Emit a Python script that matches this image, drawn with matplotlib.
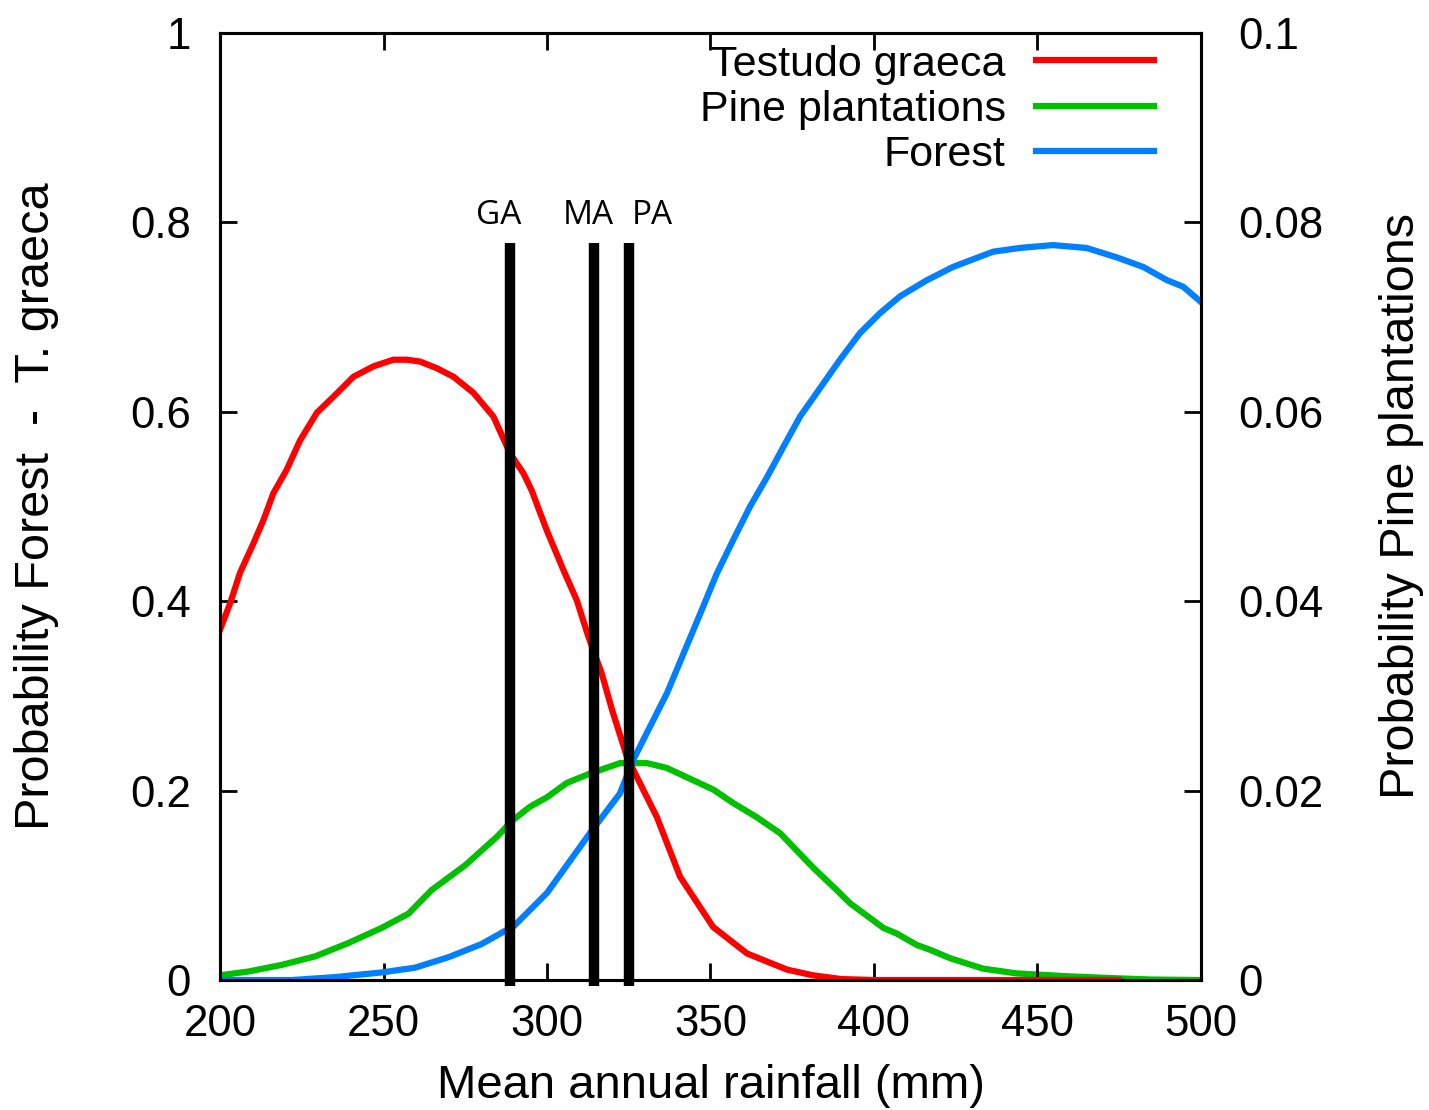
import matplotlib
matplotlib.use("Agg")
import matplotlib.pyplot as plt

plt.rcParams['font.family'] = ['Liberation Sans', 'DejaVu Sans']

# Testudo graeca (left axis)
red_x = [200, 203.1, 206.1, 210.2, 213.3, 216.3, 220.4, 224.5, 229.6, 234.7, 240.8, 246.9,
         253, 257.1, 261.2, 266.3, 271.4, 277.5, 283.6, 288.7, 292.8, 295.3, 299.9, 305,
         309.1, 312.6, 316.7, 320, 324.5, 333.6, 340.7, 350.8, 361.2, 373.4, 381.3, 390,
         400, 420, 450, 475]
red_y = [0.37, 0.398, 0.43, 0.461, 0.486, 0.514, 0.539, 0.570, 0.599, 0.616, 0.637, 0.648,
         0.655, 0.655, 0.653, 0.646, 0.637, 0.620, 0.595, 0.556, 0.535, 0.517, 0.475, 0.433,
         0.401, 0.363, 0.324, 0.284, 0.235, 0.172, 0.109, 0.056, 0.028, 0.011, 0.005, 0.001,
         0.0, 0.0, 0.0, 0.0]

# Pine plantations (right axis)
green_x = [200, 208.7, 218.9, 229.1, 239.2, 249.4, 257.6, 264.7, 274.9, 284.6, 289.6, 294.8,
           300, 306, 313.1, 322.3, 330.6, 336.6, 342.8, 350.9, 356.9, 364.1, 371.3, 376.3,
           381.3, 388.6, 392.7, 402.9, 407, 413.1, 417.1, 423.3, 433.4, 443.6, 458.9, 474.2,
           485, 500]
green_y = [0.0005, 0.0009, 0.0016, 0.0025, 0.0039, 0.0055, 0.0070, 0.0095, 0.0121, 0.0151,
           0.0169, 0.0183, 0.0193, 0.0208, 0.0218, 0.0229, 0.0229, 0.0224, 0.0214, 0.0201,
           0.0187, 0.0172, 0.0155, 0.0137, 0.0119, 0.0095, 0.0081, 0.0055, 0.0049, 0.0037,
           0.0032, 0.0023, 0.0012, 0.0007, 0.0004, 0.00018, 0.00005, 0.0]

# Forest (left axis)
blue_x = [200, 222, 235, 249.4, 259.6, 269.8, 280, 287.2, 289.6, 300, 313.1, 322.3, 326.3,
          336.7, 347, 351.9, 357, 362.1, 367.3, 372.3, 377.4, 382.5, 389.6, 395.7, 401.8,
          408, 416.2, 424.2, 436.4, 444.6, 454.7, 465, 474.3, 482.3, 489.6, 494.6, 500]
blue_y = [0.0, 0.0, 0.003, 0.008, 0.013, 0.024, 0.038, 0.052, 0.056, 0.092, 0.155, 0.197,
          0.232, 0.303, 0.388, 0.429, 0.465, 0.50, 0.531, 0.563, 0.595, 0.620, 0.655, 0.683,
          0.704, 0.722, 0.739, 0.753, 0.769, 0.773, 0.776, 0.773, 0.763, 0.753, 0.739,
          0.732, 0.716]

# Site markers
site_names = ["GA", "MA", "PA"]
site_x = [288.7, 314.4, 325.1]
site_label_x = [285.3, 312.5, 332.1]

fig = plt.figure(figsize=(14.29, 11.10), dpi=100)
ax = fig.add_axes([0.154, 0.1171, 0.6864, 0.8532])
ax2 = ax.twinx()
ax.set_zorder(ax2.get_zorder() + 1)
ax.patch.set_visible(False)

lw = 4.5
l1, = ax.plot(red_x, red_y, color='#ff0000', lw=lw, label='Testudo graeca')
l2, = ax2.plot(green_x, green_y, color='#00c000', lw=lw, label='Pine plantations')
l3, = ax.plot(blue_x, blue_y, color='#0080ff', lw=lw, label='Forest')

for name, xv, lx in zip(site_names, site_x, site_label_x):
    ax.vlines(xv, -0.006, 0.778, color='black', lw=7.5, clip_on=False, zorder=5)
    ax.text(lx, 0.807, name, ha='center', va='center', fontsize=24,
            family=['Open Sans', 'DejaVu Sans'])

ax.set_xlim(200, 500)
ax.set_ylim(0, 1)
ax2.set_ylim(0, 0.1)

ax.set_xticks([200, 250, 300, 350, 400, 450, 500])
ax.set_yticks([0, 0.2, 0.4, 0.6, 0.8, 1])
ax.set_yticklabels(['0', '0.2', '0.4', '0.6', '0.8', '1'])
ax2.set_yticks([0, 0.02, 0.04, 0.06, 0.08, 0.1])
ax2.set_yticklabels(['0', '0.02', '0.04', '0.06', '0.08', '0.1'])

fs = 31.5
ax.tick_params(axis='x', which='both', direction='in', length=12, width=2, top=True,
               labelsize=fs, pad=17)
ax.tick_params(axis='y', which='both', direction='in', length=12, width=2, right=False,
               labelsize=fs, pad=21)
ax2.tick_params(axis='y', direction='in', length=12, width=2, labelsize=fs, pad=27)

for a in (ax, ax2):
    for s in a.spines.values():
        s.set_linewidth(2.2)

ax.set_xlabel('Mean annual rainfall (mm)', fontsize=34, labelpad=14)
ax.set_ylabel('Probability Forest  -  T. graeca', fontsize=35, labelpad=51)
ax2.set_ylabel('Probability Pine plantations', fontsize=35, labelpad=40)

leg = ax.legend(handles=[l1, l2, l3], loc='upper right', markerfirst=False, frameon=False,
                fontsize=31, handlelength=2.75, handletextpad=0.7, labelspacing=0.12,
                borderaxespad=0.0, bbox_to_anchor=(0.970, 1.006))
for t in leg.get_texts():
    t.set_ha('right')

fig.savefig('out.png', dpi=100)
